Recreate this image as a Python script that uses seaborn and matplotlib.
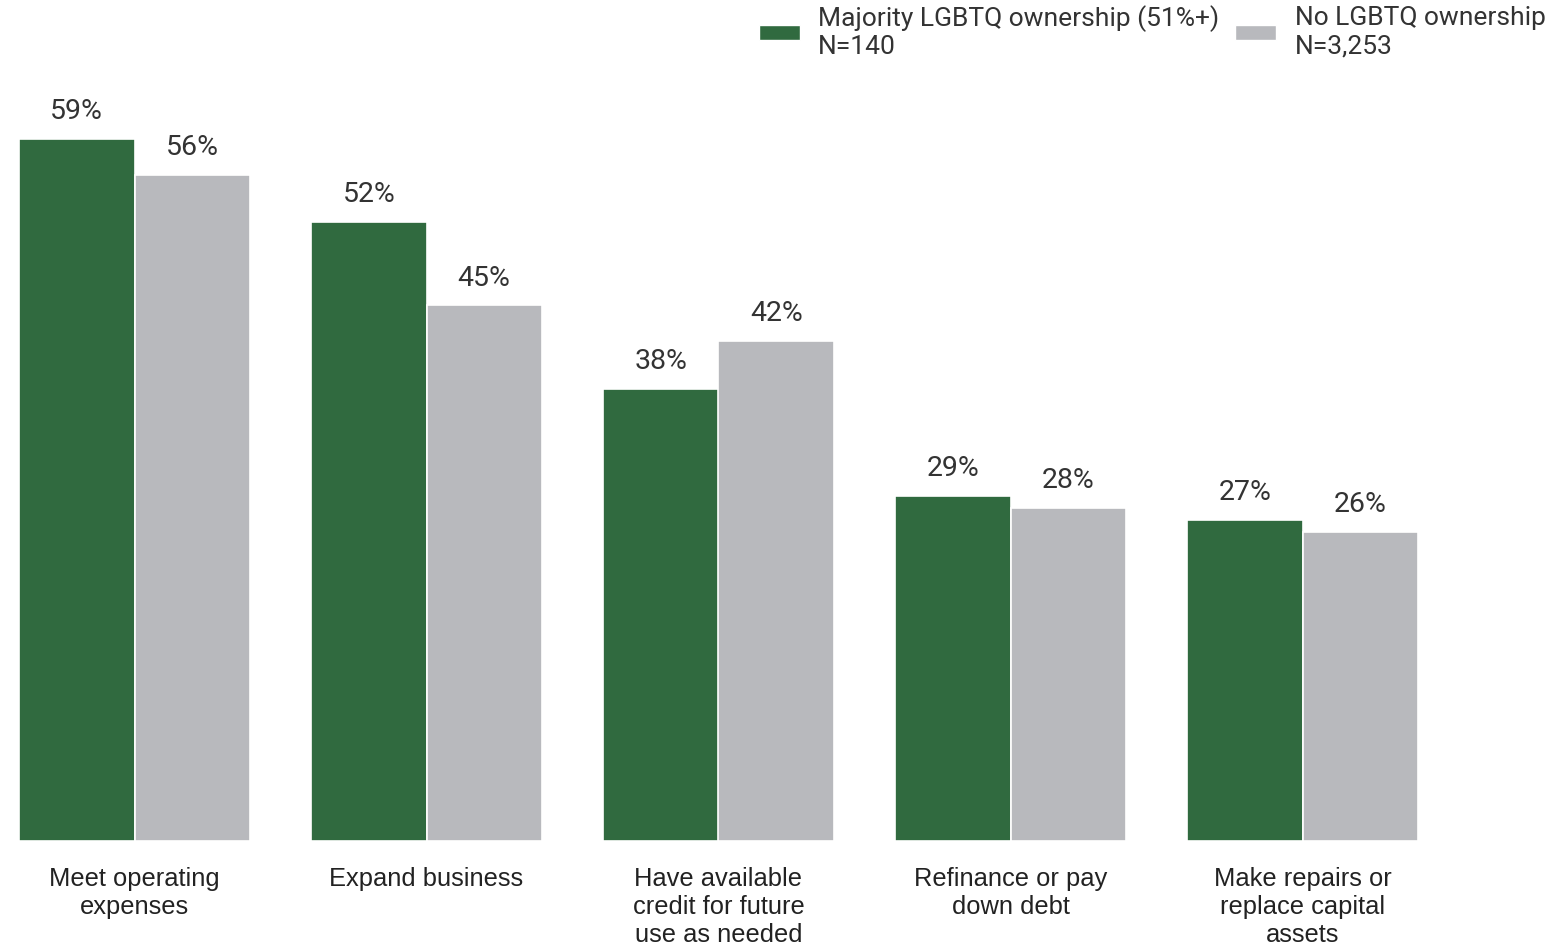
import matplotlib
matplotlib.use("Agg")
import matplotlib.pyplot as plt
import seaborn as sns
import pandas as pd
from matplotlib.patches import Patch

categories = ["Meet operating\nexpenses", "Expand business", "Have available\ncredit for future\nuse as needed",
              "Refinance or pay\ndown debt", "Make repairs or\nreplace capital\nassets"]
series_names = ["Majority LGBTQ ownership (51%+)\nN=140", "No LGBTQ ownership\nN=3,253"]
majority_lgbtq = [59, 52, 38, 29, 27]
no_lgbtq = [56, 45, 42, 28, 26]
colors = ["#306a3f", "#b8b9bd"]

rows = []
for c, a, b in zip(categories, majority_lgbtq, no_lgbtq):
    rows.append({"cat": c, "series": series_names[0], "value": a})
    rows.append({"cat": c, "series": series_names[1], "value": b})
df = pd.DataFrame(rows)

sns.set_theme(style="white")
plt.rcParams["font.family"] = ["Roboto", "DejaVu Sans"]

fig = plt.figure(figsize=(15.53, 9.46), dpi=100)
ax = fig.add_axes([0, 105/946, 1, (841-8)/946])
sns.barplot(data=df, x="cat", y="value", hue="series", palette=colors, width=0.79,
            saturation=1, edgecolor="white", linewidth=1.2, ax=ax, legend=False)

for cont in ax.containers:
    ax.bar_label(cont, labels=[f"{int(v)}%" for v in cont.datavalues], padding=10,
                 fontsize=20.5, color="#333333", family="Roboto")

ax.set_xlim(-134.5/292, (1553-134.5)/292)
ax.set_ylim(0, 70)
ax.set_xlabel("")
ax.set_ylabel("")
ax.set_yticks([])
ax.tick_params(axis="x", length=0, pad=19)
for lbl in ax.get_xticklabels():
    lbl.set_fontsize(18.4)
    lbl.set_family("Liberation Sans")
    lbl.set_color("#222222")
    lbl.set_linespacing(1.2)
    lbl.set_verticalalignment("top")
for s in ax.spines.values():
    s.set_visible(False)

handles = [Patch(facecolor=colors[0]), Patch(facecolor=colors[1])]
fig.legend(handles, series_names, loc="upper right", bbox_to_anchor=(1.0105, 1.020), ncol=2,
           frameon=False, handlelength=1.55, handleheight=0.5,
           handletextpad=0.7, columnspacing=0.6, labelspacing=0.2,
           prop={"family": "Roboto", "size": 19.0}, labelcolor="#333333")

fig.savefig("out.png", dpi=100)
